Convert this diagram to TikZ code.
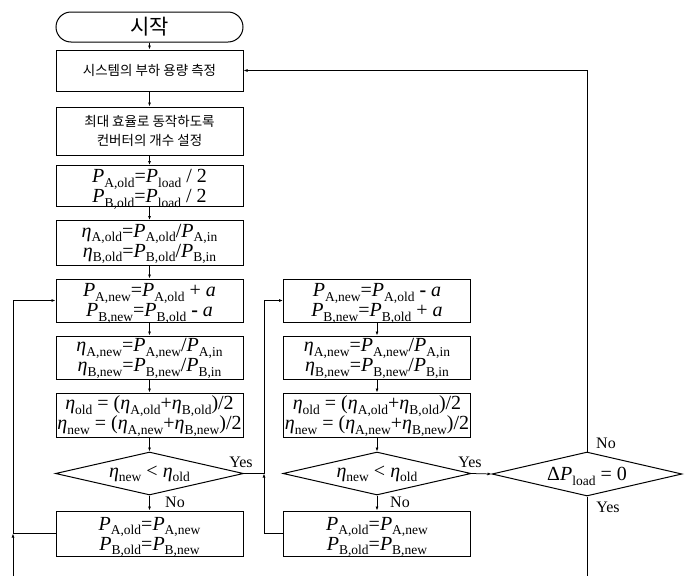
\documentclass[tikz,border=0pt]{standalone}
\usepackage{fontspec}
\setmainfont{Liberation Serif}
\newfontfamily\krfont{Noto Sans CJK KR}
\usetikzlibrary{shapes.geometric,arrows.meta}
\newcommand\myP{\textit{P}}
\newcommand\myE{\textit{η}}
\newcommand\sub[1]{\raisebox{-4.5pt}[0pt][0pt]{\fontsize{13.5}{13.5}\selectfont #1}}
\begin{document}
\begin{tikzpicture}[x=1pt,y=-1pt,
 box/.style={draw, line width=1pt, minimum width=187pt, inner sep=0pt, align=center, font=\fontsize{20}{20}\selectfont},
 krbox/.style={draw, line width=1pt, minimum width=187pt, inner sep=0pt, align=center, font=\krfont\fontsize{13.5}{19.5}\selectfont},
 dec/.style={draw, diamond, line width=1pt, inner sep=0pt, aspect=4.4, minimum width=188pt, minimum height=43pt, font=\fontsize{20}{20}\selectfont},
 arr/.style={-{Latex[length=4pt,width=3pt]}, line width=0.75pt},
 ln/.style={line width=0.75pt},
 lbl/.style={font=\fontsize{16}{16}\selectfont, inner sep=0pt}]
\useasboundingbox (0,0) rectangle (691,576);
% left column
\node[draw, line width=1pt, rounded corners=15pt, minimum width=187pt, minimum height=30pt, inner sep=0pt, font=\krfont\fontsize{21}{21}\selectfont] (start) at (149.5,27) {시작};
\node[krbox, minimum height=41pt] (b1) at (149.5,70.5) {시스템의 부하 용량 측정};
\node[krbox, minimum height=48pt] (b2) at (149.5,131) {최대 효율로 동작하도록\\컨버터의 개수 설정};
\node[box, minimum height=41pt] (b3) at (149.5,186) {\myP\sub{A,old}=\myP\sub{load} / 2\\\myP\sub{B,old}=\myP\sub{load} / 2};
\node[box, minimum height=45pt] (b4) at (149.5,243) {\myE\sub{A,old}=\myP\sub{A,old}/\myP\sub{A,in}\\\myE\sub{B,old}=\myP\sub{B,old}/\myP\sub{B,in}};
\node[box, minimum height=43pt] (b5) at (149.5,300.5) {\myP\sub{A,new}=\myP\sub{A,old} + \textit{a}\\\myP\sub{B,new}=\myP\sub{B,old} \textbf{-} \textit{a}};
\node[box, minimum height=43pt] (b6) at (149.5,357.5) {\myE\sub{A,new}=\myP\sub{A,new}/\myP\sub{A,in}\\\myE\sub{B,new}=\myP\sub{B,new}/\myP\sub{B,in}};
\node[box, minimum height=44pt] (b7) at (149.5,415) {\myE\sub{old} = (\myE\sub{A,old}+\myE\sub{B,old})/2\\\myE\sub{new} = (\myE\sub{A,new}+\myE\sub{B,new})/2};
\node[dec] (d1) at (149.5,473.5) {\myE\sub{new} < \myE\sub{old}};
\node[box, minimum height=45pt] (b8) at (149.5,533.5) {\myP\sub{A,old}=\myP\sub{A,new}\\\myP\sub{B,old}=\myP\sub{B,new}};
% middle column
\node[box, minimum height=43pt] (r1) at (377,300.5) {\myP\sub{A,new}=\myP\sub{A,old} \textbf{-} \textit{a}\\\myP\sub{B,new}=\myP\sub{B,old} + \textit{a}};
\node[box, minimum height=43pt] (r2) at (377,357.5) {\myE\sub{A,new}=\myP\sub{A,new}/\myP\sub{A,in}\\\myE\sub{B,new}=\myP\sub{B,new}/\myP\sub{B,in}};
\node[box, minimum height=44pt] (r3) at (377,415) {\myE\sub{old} = (\myE\sub{A,old}+\myE\sub{B,old})/2\\\myE\sub{new} = (\myE\sub{A,new}+\myE\sub{B,new})/2};
\node[dec] (d2) at (377,473.5) {\myE\sub{new} < \myE\sub{old}};
\node[box, minimum height=45pt] (r4) at (377,533.5) {\myP\sub{A,old}=\myP\sub{A,new}\\\myP\sub{B,old}=\myP\sub{B,new}};
% right decision
\node[dec, minimum width=190pt, minimum height=44pt] (d3) at (587,474) {Δ\myP\sub{load} = 0};
% straight arrows
\draw[arr] (start) -- (b1);
\draw[arr] (b1) -- (b2);
\draw[arr] (b2) -- (b3);
\draw[arr] (b3) -- (b4);
\draw[arr] (b4) -- (b5);
\draw[arr] (b5) -- (b6);
\draw[arr] (b6) -- (b7);
\draw[arr] (b7) -- (d1);
\draw[arr] (d1) -- (b8);
\draw[arr] (r1) -- (r2);
\draw[arr] (r2) -- (r3);
\draw[arr] (r3) -- (d2);
\draw[arr] (d2) -- (r4);
\draw[arr] (d2.east) -- (d3.west);
% left loop
\coordinate (lb) at (13,576);
\coordinate (lj) at (b8.west -| lb);
\draw[arr] (lb) -- (lj);
\draw[ln] (b8.west) -- (lj);
\draw[arr] (lj) |- (b5.west);
% middle loop
\coordinate (mj) at (264,533.5);
\coordinate (mi) at (d1.east -| mj);
\draw[ln] (r4.west) -- (mj);
\draw[arr] (mj) -- (mi);
\draw[ln] (d1.east) -- (mi);
\draw[arr] (mi) |- (r1.west);
% big loop
\coordinate (rb) at (d3.south |- lb);
\draw[arr] (d3.north) |- (b1.east);
\draw[ln] (d3.south) -- (rb);
% labels
\node[lbl] (y1) at (241,462) {Yes};
\node[lbl] (n1) at (175,502) {No};
\node[lbl] (y2) at (470,462) {Yes};
\node[lbl] (n2) at (400,502) {No};
\node[lbl] (n3) at (606,443) {No};
\node[lbl] (y3) at (608,507) {Yes};
\end{tikzpicture}
\end{document}
